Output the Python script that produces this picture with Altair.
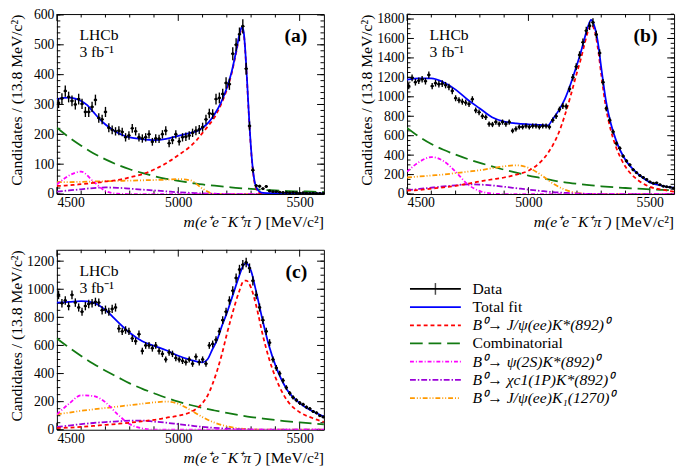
import altair as alt
import pandas as pd

FONT = "Liberation Serif, Times New Roman, Times, serif"
W, H = 273, 184
BIN = 13.8
bin_centers = [round(4500 + BIN * (i + 0.5), 2) for i in range(80)]

X_MAJOR = [4500, 5000, 5500]
X_MINOR = [4600, 4700, 4800, 4900, 5100, 5200, 5300, 5400]

COMP_X = [4500, 4550, 4600, 4650, 4700, 4750, 4800, 4850, 4900, 4950, 5000, 5050,
          5100, 5150, 5200, 5250, 5300, 5350, 5400, 5450, 5500, 5550, 5600]

# ---------------- panel (a) ----------------
a_counts = [305, 320, 345, 325, 312, 300, 318, 302, 275, 275,
            292, 315, 255, 250, 275, 222, 215, 210, 212, 208,
            190, 196, 220, 210, 190, 186, 190, 200, 175, 186,
            185, 200, 212, 170, 180, 200, 176, 190, 192, 196,
            205, 212, 216, 224, 250, 270, 268, 318, 322, 335,
            372, 368, 470, 500, 535, 562, 420, 228, 80, 28,
            26, 18, 25, 10, 8, 8, 6, 5, 5, 4,
            5, 4, 3, 4, 3, 2, 3, 2, 2, 2]
a_errs = [17, 18, 19, 18, 18, 17, 18, 17, 17, 17,
          17, 18, 16, 16, 17, 15, 15, 14, 15, 14,
          14, 14, 15, 14, 14, 14, 14, 14, 13, 14,
          14, 14, 15, 13, 13, 14, 13, 14, 14, 14,
          14, 15, 15, 15, 16, 16, 16, 18, 18, 18,
          19, 19, 22, 22, 23, 24, 20, 15, 9, 5,
          5, 4, 5, 3, 3, 3, 2, 2, 2, 2,
          2, 2, 2, 2, 2, 1, 2, 1, 1, 1]
a_fit_x = [4500, 4525, 4550, 4575, 4600, 4625, 4650, 4675, 4700, 4725, 4750, 4775, 4800,
           4850, 4900, 4950, 5000, 5050, 5075, 5100, 5125, 5150, 5175, 5200,
           5220, 5240, 5255, 5263, 5270, 5280, 5290, 5300, 5310, 5320, 5335, 5350,
           5400, 5500, 5600]
a_total = [318, 322, 323, 320, 312, 298, 275, 252, 233, 218, 205, 196, 190,
           184, 181, 185, 195, 205, 210, 222, 240, 268, 305, 355,
           410, 485, 545, 560, 540, 430, 280, 150, 65, 25, 8, 4,
           3, 2, 2]
a_signal = [27, 28, 29, 31, 33, 35, 37, 39, 42, 44, 47, 51, 56,
            66, 82, 103, 130, 160, 180, 205, 230, 258, 298, 350,
            405, 480, 540, 553, 535, 425, 275, 145, 60, 20, 3, 0,
            0, 0, 0]
a_comb = [222, 190, 162, 137, 116, 98, 83, 71, 60, 51, 44, 38, 32, 28, 24, 20, 17, 14, 12, 10, 9, 8, 7]
a_psi2s = [32, 62, 75, 42, 10, 1, 0, 0, 0, 0, 0, 0, 0, 0, 0, 0, 0, 0, 0, 0, 0, 0, 0]
a_chic1 = [8, 12, 16, 20, 22, 21, 18, 15, 12, 9, 6, 4, 2, 1, 0, 0, 0, 0, 0, 0, 0, 0, 0]
a_k1 = [40, 40, 41, 42, 43, 44, 45, 46, 47, 48, 50, 46, 18, 0, 0, 0, 0, 0, 0, 0, 0, 0, 0]

# ---------------- panel (b) ----------------
b_counts = [1110, 1195, 1150, 1165, 1180, 1160, 1225, 1110, 1140, 1130,
            1135, 1120, 1100, 1060, 985, 965, 950, 940, 925, 975,
            860, 840, 800, 790, 720, 715, 740, 720, 740, 720,
            740, 650, 670, 690, 690, 700, 690, 700, 700, 690,
            700, 700, 690, 760, 800, 870, 905, 900, 1080, 1200,
            1310, 1430, 1560, 1680, 1730, 1765, 1640, 1450, 1150, 880,
            760, 640, 520, 470, 390, 340, 300, 250, 220, 190,
            170, 150, 125, 110, 115, 95, 80, 75, 70, 60]
b_errs = [33, 35, 34, 34, 34, 34, 35, 33, 34, 34,
          34, 33, 33, 33, 31, 31, 31, 31, 30, 31,
          29, 29, 28, 28, 27, 27, 27, 27, 27, 27,
          27, 25, 26, 26, 26, 26, 26, 26, 26, 26,
          26, 26, 26, 28, 28, 29, 30, 30, 33, 35,
          36, 38, 39, 41, 42, 42, 40, 38, 34, 30,
          28, 25, 23, 22, 20, 18, 17, 16, 15, 14,
          13, 12, 11, 10, 11, 10, 9, 9, 8, 8]
b_fit_x = [4500, 4550, 4600, 4650, 4700, 4750, 4800, 4850, 4900, 4950, 5000, 5050,
           5080, 5100, 5125, 5150, 5175, 5200,
           5215, 5230, 5245, 5258, 5270, 5285, 5300,
           5320, 5340, 5360, 5380, 5400,
           5450, 5500, 5550, 5600]
b_total = [1176, 1190, 1190, 1150, 1074, 970, 880, 790, 745, 727, 717, 710,
           705, 770, 860, 977, 1140, 1330,
           1450, 1590, 1720, 1790, 1740, 1580, 1300,
           950, 720, 560, 440, 350,
           210, 120, 85, 65]
b_signal = [35, 42, 55, 68, 85, 105, 130, 150, 170, 200, 240, 330,
            420, 500, 630, 810, 1020, 1250,
            1380, 1530, 1670, 1740, 1700, 1520, 1230,
            880, 650, 490, 370, 280,
            145, 75, 45, 25]
b_comb = [680, 590, 515, 455, 405, 360, 320, 285, 250, 220, 190, 165, 140, 120, 105, 92, 80, 70, 62, 55, 48, 43, 38]
b_psi2s = [230, 330, 380, 340, 230, 100, 30, 5, 0, 0, 0, 0, 0, 0, 0, 0, 0, 0, 0, 0, 0, 0, 0]
b_chic1 = [40, 52, 65, 78, 90, 100, 97, 88, 75, 60, 45, 32, 20, 12, 5, 2, 0, 0, 0, 0, 0, 0, 0]
b_k1 = [170, 180, 190, 200, 215, 230, 245, 265, 285, 295, 270, 200, 110, 45, 10, 0, 0, 0, 0, 0, 0, 0, 0]

# ---------------- panel (c) ----------------
c_counts = [960, 900, 920, 880, 960, 905, 870, 840, 880, 895,
            900, 910, 905, 850, 855, 840, 860, 870, 720, 700,
            710, 700, 650, 630, 680, 560, 600, 600, 580, 600,
            560, 540, 500, 550, 540, 510, 500, 490, 480, 500,
            470, 520, 480, 500, 470, 600, 610, 640, 700, 780,
            840, 920, 990, 1080, 1140, 1175, 1190, 1150, 1060, 960,
            870, 780, 700, 620, 500, 440, 400, 350, 300, 260,
            230, 210, 190, 180, 160, 150, 130, 120, 100, 90]
c_errs = [31, 30, 30, 30, 31, 30, 29, 29, 30, 30,
          30, 30, 30, 29, 29, 29, 29, 29, 27, 26,
          27, 26, 25, 25, 26, 24, 24, 24, 24, 24,
          24, 23, 22, 23, 23, 23, 22, 22, 22, 22,
          22, 23, 22, 22, 22, 24, 25, 25, 26, 28,
          29, 30, 31, 33, 34, 34, 34, 34, 33, 31,
          29, 28, 26, 25, 22, 21, 20, 19, 17, 16,
          15, 14, 14, 13, 13, 12, 11, 11, 10, 9]
c_fit_x = [4500, 4550, 4600, 4650, 4700, 4750, 4800, 4850, 4900, 4950, 5000, 5050, 5100,
           5120, 5140, 5160, 5180, 5200,
           5225, 5250, 5270, 5280, 5300, 5320,
           5350, 5375, 5400,
           5450, 5500, 5550, 5600]
c_total = [905, 910, 915, 905, 852, 770, 690, 631, 597, 566, 527, 497, 480,
           500, 570, 640, 740, 830,
           960, 1090, 1175, 1185, 1130, 990,
           760, 590, 460,
           280, 190, 135, 93]
c_signal = [12, 15, 20, 27, 35, 42, 50, 60, 70, 85, 100, 125, 190,
            240, 320, 420, 540, 680,
            840, 980, 1060, 1062, 1010, 890,
            660, 500, 375,
            205, 125, 85, 55]
c_comb = [650, 585, 525, 470, 420, 375, 330, 293, 260, 228, 200, 176, 155, 137, 120, 104, 90, 80, 70, 60, 52, 45, 38]
c_psi2s = [110, 185, 245, 240, 195, 110, 40, 10, 0, 0, 0, 0, 0, 0, 0, 0, 0, 0, 0, 0, 0, 0, 0]
c_chic1 = [20, 30, 40, 48, 55, 60, 65, 65, 58, 50, 40, 30, 20, 13, 8, 4, 2, 0, 0, 0, 0, 0, 0]
c_k1 = [110, 122, 135, 145, 155, 165, 175, 185, 195, 200, 185, 140, 90, 50, 25, 10, 3, 0, 0, 0, 0, 0, 0]

# ---------------- styles ----------------
C_TOTAL = "#0000ff"
C_SIG = "#ff0000"
C_COMB = "#127a12"
C_PSI = "#ff00ff"
C_CHI = "#9a00d8"
C_K1 = "#ff9900"
D_SIG = [4, 3]
D_COMB = [13, 6]
D_PSI = [4, 2, 1, 2]
D_CHI = [6, 2, 1.5, 2]
D_K1 = [5, 2, 1, 2, 1, 2]

legend_labels = ["Data", "Total fit", "B⁰→ J/ψ(ee)K*(892)⁰", "Combinatorial",
                 "B⁰→  ψ(2S)K*(892)⁰", "B⁰→ χc1(1P)K*(892)⁰", "B⁰→ J/ψ(ee)K₁(1270)⁰"]


def one_row():
    return pd.DataFrame({"k": [0]})


def panel(counts, errs, fit_x, total, signal, comb, psi, chi, k1,
          ymax, ymajor, yminor, tag):
    xs = alt.Scale(domain=[4500, 5600], nice=False, zero=False)
    ys = alt.Scale(domain=[0, ymax], nice=False, zero=False)
    xaxis = alt.Axis(values=X_MAJOR, format="d", ticks=False, domain=False, grid=False,
                     labelFont=FONT, labelFontSize=14, labelPadding=2, labelColor="black",
                     title=None)
    yaxis = alt.Axis(values=ymajor, format="d", ticks=False, domain=False, grid=False,
                     labelFont=FONT, labelFontSize=14, labelPadding=3, labelColor="black",
                     title="Candidates / (13.8 MeV/c²)", titleFont=FONT, titleFontSize=16,
                     titleFontWeight="normal", titleColor="black", titleAnchor="end",
                     titlePadding=3, minExtent=30, maxExtent=30)

    def X(f):
        return alt.X(f"{f}:Q", scale=xs, axis=xaxis)

    def Y(f):
        return alt.Y(f"{f}:Q", scale=ys, axis=yaxis)

    layers = []
    # tick marks pointing inward
    xt_major = pd.DataFrame({"t": X_MAJOR})
    xt_minor = pd.DataFrame({"t": X_MINOR})
    yt_major = pd.DataFrame({"t": ymajor})
    yt_minor = pd.DataFrame({"t": yminor})
    for dft, ln in ((xt_major, 7), (xt_minor, 3.5)):
        layers.append(alt.Chart(dft).mark_rule(color="black", strokeWidth=1).encode(
            x=X("t"), y=alt.value(H), y2=alt.value(H - ln)))
        layers.append(alt.Chart(dft).mark_rule(color="black", strokeWidth=1).encode(
            x=X("t"), y=alt.value(0), y2=alt.value(ln)))
    for dft, ln in ((yt_major, 7), (yt_minor, 3.5)):
        layers.append(alt.Chart(dft).mark_rule(color="black", strokeWidth=1).encode(
            y=Y("t"), x=alt.value(0), x2=alt.value(ln)))
        layers.append(alt.Chart(dft).mark_rule(color="black", strokeWidth=1).encode(
            y=Y("t"), x=alt.value(W), x2=alt.value(W - ln)))

    def curve(xv, yv, color, dash=None, width=1.8):
        df = pd.DataFrame({"m": xv, "v": yv})
        kw = dict(color=color, strokeWidth=width, interpolate="monotone", clip=True)
        if dash:
            kw["strokeDash"] = dash
        return alt.Chart(df).mark_line(**kw).encode(x=X("m"), y=Y("v"))

    layers.append(curve(COMP_X, comb, C_COMB, D_COMB))
    layers.append(curve(COMP_X, k1, C_K1, D_K1))
    layers.append(curve(COMP_X, chi, C_CHI, D_CHI))
    layers.append(curve(COMP_X, psi, C_PSI, D_PSI))
    layers.append(curve(fit_x, signal, C_SIG, D_SIG))
    layers.append(curve(fit_x, total, C_TOTAL, None, 1.8))

    dd = pd.DataFrame({"m": bin_centers, "n": counts})
    dd["lo"] = [max(0, n - e) for n, e in zip(counts, errs)]
    dd["hi"] = [n + e for n, e in zip(counts, errs)]
    dd["xl"] = [m - BIN / 2 for m in bin_centers]
    dd["xh"] = [m + BIN / 2 for m in bin_centers]
    layers.append(alt.Chart(dd).mark_rule(color="black", strokeWidth=1.4).encode(
        x=X("m"), y=Y("lo"), y2=alt.Y2("hi")))
    layers.append(alt.Chart(dd).mark_rule(color="black", strokeWidth=1.4).encode(
        x=X("xl"), x2=alt.X2("xh"), y=Y("n")))
    layers.append(alt.Chart(dd).mark_circle(color="black", size=9, opacity=1).encode(
        x=X("m"), y=Y("n")))

    # annotations
    layers.append(alt.Chart(one_row()).mark_text(
        text="LHCb", font=FONT, fontSize=16, align="left", baseline="middle", color="black"
    ).encode(x=alt.value(23), y=alt.value(22)))
    layers.append(alt.Chart(one_row()).mark_text(
        text="3 fb⁻¹", font=FONT, fontSize=16, align="left", baseline="middle", color="black"
    ).encode(x=alt.value(23), y=alt.value(39)))
    layers.append(alt.Chart(one_row()).mark_text(
        text=tag, font=FONT, fontSize=20, fontWeight="bold", align="right",
        baseline="middle", color="black"
    ).encode(x=alt.value(W - 17), y=alt.value(23)))
    # x-axis title
    layers.append(alt.Chart(one_row()).mark_text(
        text="[MeV/c²]", font=FONT, fontSize=16, align="right", baseline="middle", color="black"
    ).encode(x=alt.value(W), y=alt.value(H + 29)))
    layers.append(alt.Chart(one_row()).mark_text(
        text="m(e⁺e⁻ K⁺π⁻)", font=FONT, fontSize=16, fontStyle="italic", align="right",
        baseline="middle", color="black"
    ).encode(x=alt.value(W - 64), y=alt.value(H + 29)))

    return alt.layer(*layers).properties(width=W, height=H)


pa = panel(a_counts, a_errs, a_fit_x, a_total, a_signal, a_comb, a_psi2s, a_chic1, a_k1,
           603, list(range(0, 601, 100)), list(range(0, 601, 20)), "(a)")
pb = panel(b_counts, b_errs, b_fit_x, b_total, b_signal, b_comb, b_psi2s, b_chic1, b_k1,
           1851, list(range(0, 1801, 200)), list(range(0, 1851, 50)), "(b)")
pc = panel(c_counts, c_errs, c_fit_x, c_total, c_signal, c_comb, c_psi2s, c_chic1, c_k1,
           1281, list(range(0, 1201, 200)), list(range(0, 1251, 50)), "(c)")

# ---------------- legend ----------------
STEP = 18.6
ly = alt.Scale(domain=[-40 / STEP, (H - 40) / STEP], reverse=True)
leg_styles = [("black", None), (C_TOTAL, None), (C_SIG, D_SIG), (C_COMB, D_COMB),
              (C_PSI, D_PSI), (C_CHI, D_CHI), (C_K1, D_K1)]
leg_layers = []
for i, (lab, (col, dash)) in enumerate(zip(legend_labels, leg_styles)):
    df = pd.DataFrame({"row": [i], "label": [lab]})
    kw = dict(color=col, strokeWidth=1.8)
    if dash:
        kw["strokeDash"] = dash
    leg_layers.append(alt.Chart(df).mark_rule(**kw).encode(
        y=alt.Y("row:Q", scale=ly, axis=None), x=alt.value(53), x2=alt.value(105)))
    style = "italic" if lab.startswith("B") else "normal"
    leg_layers.append(alt.Chart(df).mark_text(
        font=FONT, fontSize=16, fontStyle=style, align="left", baseline="middle", color="black"
    ).encode(y=alt.Y("row:Q", scale=ly, axis=None), x=alt.value(117), text="label:N"))
leg_layers.append(alt.Chart(pd.DataFrame({"row": [0]})).mark_tick(
    orient="vertical", color="black", size=12, thickness=1.5
).encode(y=alt.Y("row:Q", scale=ly, axis=None), x=alt.value(79)))
legend = alt.layer(*leg_layers).properties(
    width=300, height=H, view=alt.ViewBackground(strokeOpacity=0))

chart = alt.vconcat(
    alt.hconcat(pa, pb, spacing=32),
    alt.hconcat(pc, legend, spacing=32),
    spacing=18,
).properties(
    padding={"left": 0, "top": -6, "right": 0, "bottom": 0}
).configure_view(stroke="black", strokeWidth=1)

chart.save("out.html", embed_options={"renderer": "svg", "actions": False})
